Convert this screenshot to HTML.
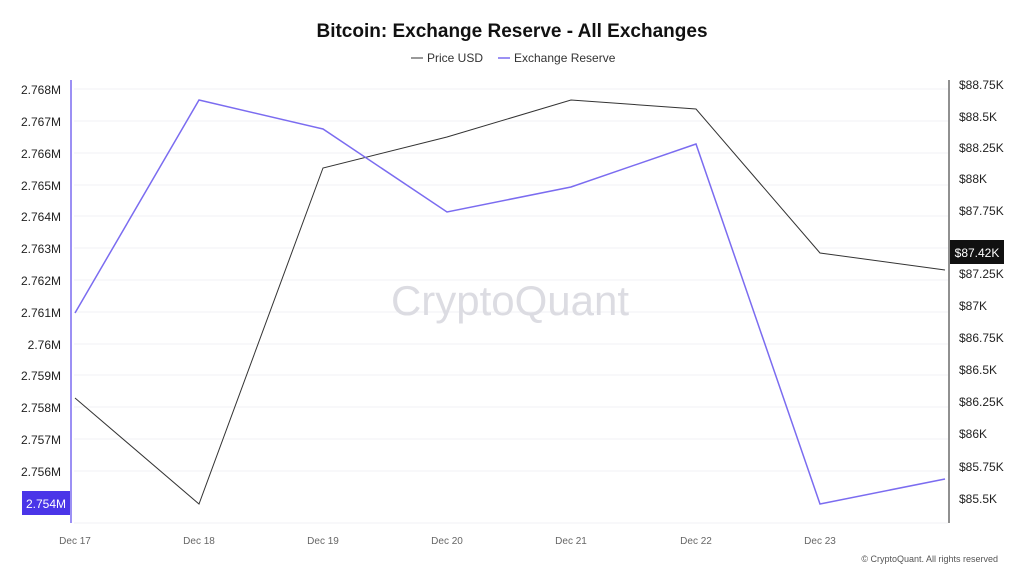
<!DOCTYPE html>
<html><head><meta charset="utf-8"><style>
body{margin:0;background:#fff;font-family:"Liberation Sans",sans-serif}
</style></head><body>
<svg width="1024" height="576" xmlns="http://www.w3.org/2000/svg" font-family="Liberation Sans, sans-serif">
<rect width="1024" height="576" fill="#fff"/>
<text x="512" y="37" text-anchor="middle" font-size="19" font-weight="bold" fill="#111">Bitcoin: Exchange Reserve - All Exchanges</text>
<line x1="411" y1="58" x2="423" y2="58" stroke="#333" stroke-width="1"/>
<text x="427" y="62" font-size="12" fill="#333">Price USD</text>
<line x1="498" y1="58" x2="510" y2="58" stroke="#7b6cf0" stroke-width="1.5"/>
<text x="514" y="62" font-size="12" fill="#333">Exchange Reserve</text>
<g stroke="#f1f1f4" stroke-width="1">
<line x1="74" x2="948" y1="89" y2="89"/><line x1="74" x2="948" y1="121" y2="121"/><line x1="74" x2="948" y1="153" y2="153"/><line x1="74" x2="948" y1="185" y2="185"/><line x1="74" x2="948" y1="216" y2="216"/><line x1="74" x2="948" y1="248" y2="248"/><line x1="74" x2="948" y1="280" y2="280"/><line x1="74" x2="948" y1="312" y2="312"/><line x1="74" x2="948" y1="344" y2="344"/><line x1="74" x2="948" y1="375" y2="375"/><line x1="74" x2="948" y1="407" y2="407"/><line x1="74" x2="948" y1="439" y2="439"/><line x1="74" x2="948" y1="471" y2="471"/><line x1="74" x2="948" y1="523" y2="523"/>
</g>
<text x="510" y="315" text-anchor="middle" font-size="42" fill="#dcdce2">CryptoQuant</text>
<g font-size="12" fill="#222" text-anchor="end">
<text x="61" y="94">2.768M</text><text x="61" y="126">2.767M</text><text x="61" y="158">2.766M</text><text x="61" y="190">2.765M</text><text x="61" y="221">2.764M</text><text x="61" y="253">2.763M</text><text x="61" y="285">2.762M</text><text x="61" y="317">2.761M</text><text x="61" y="349">2.76M</text><text x="61" y="380">2.759M</text><text x="61" y="412">2.758M</text><text x="61" y="444">2.757M</text><text x="61" y="476">2.756M</text>
</g>
<line x1="71" y1="80" x2="71" y2="523" stroke="#7b6cf0" stroke-width="1.5"/>
<rect x="22" y="491" width="48" height="24" fill="#4a35e8"/>
<text x="46" y="508" text-anchor="middle" font-size="12" fill="#fff">2.754M</text>
<g font-size="12" fill="#222">
<text x="959" y="89">$88.75K</text><text x="959" y="121">$88.5K</text><text x="959" y="152">$88.25K</text><text x="959" y="183">$88K</text><text x="959" y="215">$87.75K</text><text x="959" y="278">$87.25K</text><text x="959" y="310">$87K</text><text x="959" y="342">$86.75K</text><text x="959" y="374">$86.5K</text><text x="959" y="406">$86.25K</text><text x="959" y="438">$86K</text><text x="959" y="471">$85.75K</text><text x="959" y="503">$85.5K</text>
</g>
<line x1="949" y1="80" x2="949" y2="523" stroke="#222" stroke-width="1"/>
<rect x="950" y="240" width="54" height="24" fill="#111"/>
<text x="977" y="257" text-anchor="middle" font-size="12" fill="#fff">$87.42K</text>
<g font-size="10" fill="#666" text-anchor="middle">
<text x="75" y="544">Dec 17</text><text x="199" y="544">Dec 18</text><text x="323" y="544">Dec 19</text><text x="447" y="544">Dec 20</text><text x="571" y="544">Dec 21</text><text x="696" y="544">Dec 22</text><text x="820" y="544">Dec 23</text>
</g>
<text x="998" y="562" text-anchor="end" font-size="9" fill="#555">© CryptoQuant. All rights reserved</text>
<polyline fill="none" stroke="#333" stroke-width="1" points="75,398 199,504 323,168 447,137 571,100 696,109 820,253 945,270"/>
<polyline fill="none" stroke="#7b6cf0" stroke-width="1.5" points="75,313 199,100 323,129 447,212 571,187 696,144 820,504 945,479"/>
</svg>
</body></html>
